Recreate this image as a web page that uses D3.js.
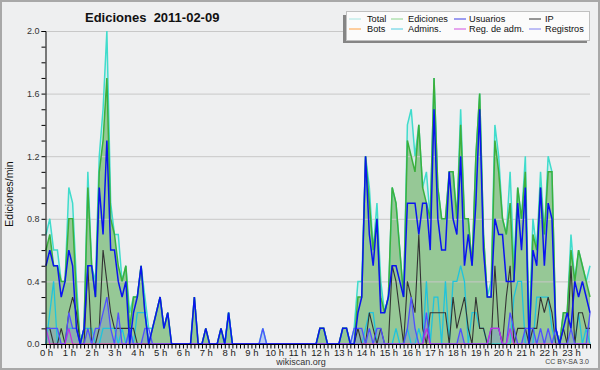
<!DOCTYPE html>
<html><head><meta charset="utf-8">
<script src="https://cdn.jsdelivr.net/npm/d3@7"></script>
<style>
body{margin:0;background:#eeeff0}
svg{display:block}
text{font-family:"Liberation Sans",Arial,sans-serif}
</style>
</head><body>
<svg id="c" width="600" height="370"></svg>
<script>
const title = "Ediciones  2011-02-09";
const hourLabels = ["0 h","1 h","2 h","3 h","4 h","5 h","6 h","7 h","8 h","9 h","10 h","11 h","12 h","13 h","14 h","15 h","16 h","17 h","18 h","19 h","20 h","21 h","22 h","23 h"];
const yTicks = [0.0,0.4,0.8,1.2,1.6,2.0];
const seriesNames = ["Total","Ediciones","Usuarios","IP","Bots","Admins.","Reg. de adm.","Registros"];

const total = [
.7,.8,.6,.6,.4,.4,1.0,.9,.4,0,.1,1.1,
.5,.4,1.2,1.5,2.0,.9,.7,.7,.4,.5,.2,.3,
.3,.5,.3,.1,.1,.2,.3,.1,.2,0,0,0,
0,0,0,.3,0,0,.1,0,0,0,.1,0,
.2,0,0,0,0,0,0,0,0,.1,0,0,
0,0,0,0,0,0,0,0,0,0,0,0,
.1,.1,0,0,0,0,.1,.1,0,.1,.4,.4,
1.2,1.0,.6,.9,.4,.2,.3,1.0,.9,.6,.3,1.4,
1.5,1.2,1.4,1.0,1.1,.8,1.7,1.0,.8,.8,1.1,1.1,
.8,1.5,.8,.8,.5,1.2,1.6,.7,.3,.4,1.4,1.2,
.8,.7,1.1,.5,1.0,.8,1.2,.1,.8,.6,1.1,.7,
1.2,1.1,.1,0,.2,.2,.7,.4,.6,.5,.4,.5];

const ediciones = [
.6,.7,.5,.5,.4,.4,.8,.8,.3,0,.1,1.0,
.5,.3,1.1,1.3,1.7,.8,.7,.5,.4,.5,.1,.3,
.3,.5,.2,0,.1,.2,.3,.1,.2,0,0,0,
0,0,0,.3,0,0,.1,0,0,0,.1,0,
.2,0,0,0,0,0,0,0,0,0,0,0,
0,0,0,0,0,0,0,0,0,0,0,0,
.1,.1,0,0,0,0,.1,.1,0,0,.3,.3,
1.2,.9,.6,.8,.3,.2,.3,1.0,.9,.6,.3,1.3,
1.2,1.1,1.4,1.0,.9,.8,1.7,1.0,.8,.8,1.1,1.1,
.8,1.4,.8,.8,.5,1.2,1.6,.7,.3,.3,1.3,1.1,
.8,.7,.9,.4,1.0,.8,1.1,0,.7,.6,1.0,.7,
1.1,1.1,.1,0,.2,.2,.6,.4,.6,.5,.4,.3];

const usuarios = [
.5,.6,.5,.5,.3,.4,.6,.5,.1,0,.1,.5,
.5,.3,1.0,.7,1.3,.6,.6,.4,.3,.4,0,.2,
.3,.5,.2,0,.1,.2,.3,.1,.2,0,0,0,
0,0,0,.3,0,0,.1,0,0,0,.1,0,
.2,0,0,0,0,0,0,0,0,0,0,0,
0,0,0,0,0,0,0,0,0,0,0,0,
.1,.1,0,0,0,0,.1,.1,0,0,.2,.3,
1.2,.7,.5,.8,.2,.2,.3,.5,.5,.4,.3,.9,
.9,.9,.7,.9,.9,.6,1.5,.8,.6,.6,1.1,.8,
.7,1.2,.5,.7,.5,.9,1.5,.6,.3,.3,.8,.7,
.7,.4,.4,.4,.9,.6,1.0,0,.6,.5,1.0,.5,
.9,.8,.1,0,.1,.2,.1,.4,.3,.4,.3,.2];

const ip = [
.1,.1,0,0,.1,0,.2,.3,.2,0,0,.5,
0,0,.1,.6,.4,.2,.1,.1,.1,.1,.1,.1,
0,0,0,0,0,0,0,0,0,0,0,0,
0,0,0,0,0,0,0,0,0,0,0,0,
0,0,0,0,0,0,0,0,0,0,0,0,
0,0,0,0,0,0,0,0,0,0,0,0,
0,0,0,0,0,0,0,0,0,0,.1,0,
0,.2,.1,0,.1,0,0,.5,.4,.2,0,.4,
.3,.2,.7,.1,0,.2,.2,.2,.2,.2,0,.3,
.1,.2,.3,.1,0,.3,.1,.1,0,0,.5,.1,
0,.3,.5,0,.1,.1,.1,0,.1,.1,.3,.2,
.3,.2,0,0,.1,0,.5,0,.2,.2,.1,.1];

const bots = [
0,0,0,0,0,0,0,0,0,0,0,0,
0,0,0,0,0,0,0,0,0,0,0,0,
0,0,0,0,0,0,0,0,0,0,0,0,
0,0,0,0,0,0,0,0,0,0,0,0,
0,0,0,0,0,0,0,0,0,0,0,0,
0,0,0,0,0,0,0,0,0,0,0,0,
0,0,0,0,0,0,0,0,0,0,0,0,
0,0,0,0,0,0,0,0,0,0,0,0,
0,0,0,0,0,0,0,0,0,0,0,0,
0,0,0,0,0,0,0,0,0,0,0,0,
0,0,0,0,0,0,0,0,0,0,0,0,
0,0,0,0,0,0,0,0,0,0,0,0];

const admins = [
0,.2,.4,0,0,0,.1,.1,.1,0,.1,.1,
.1,0,0,.1,.1,.1,.1,0,.1,0,.1,0,
.2,.2,.2,0,0,0,0,0,0,0,0,0,
0,0,0,0,0,0,0,0,0,0,0,0,
.2,0,0,0,0,0,0,0,0,0,0,0,
0,0,0,0,0,0,0,0,0,0,0,0,
0,0,0,0,0,0,0,0,0,0,0,0,
.1,.2,.2,0,0,0,0,0,.1,0,0,.1,
0,0,.1,0,.4,0,.3,.3,0,.4,0,.4,
.4,.5,.4,0,.2,.2,.1,.1,0,0,0,0,
0,0,0,.3,.4,.4,0,0,0,.3,.3,.3,
.3,.1,0,0,0,0,0,0,.2,0,.1,0];

const regAdm = [
.1,0,0,0,0,0,.1,0,0,0,0,0,
0,0,0,0,0,0,0,0,0,0,0,0,
0,0,0,0,0,0,0,0,0,0,0,0,
0,0,0,0,0,0,0,0,0,0,0,0,
0,0,0,0,0,0,0,0,0,0,0,0,
0,0,0,0,0,0,0,0,0,0,0,0,
0,0,0,0,0,0,0,0,0,0,0,0,
0,0,0,0,0,0,0,0,0,0,0,0,
0,0,0,0,.1,0,0,0,0,0,0,0,
0,0,0,0,0,0,0,0,0,.1,.1,.1,
0,0,.1,0,0,0,0,0,0,0,0,0,
0,0,0,0,0,0,0,0,0,0,0,0];

const registros = [
.1,.1,.1,.1,0,0,.2,.1,.1,0,0,.1,
0,.1,.1,.2,.3,.1,0,.2,0,0,.1,0,
0,0,.1,.1,0,0,0,0,0,0,0,0,
0,0,0,0,0,0,0,0,0,0,0,0,
0,0,0,0,0,0,0,0,0,.1,0,0,
0,0,0,0,0,0,0,0,0,0,0,0,
0,0,0,0,0,0,0,0,0,.1,.1,.1,
0,.1,0,.1,.1,0,0,0,0,0,0,.1,
.3,.1,0,0,.2,0,0,0,0,0,0,0,
0,.1,0,0,0,0,0,0,0,.1,.1,.1,
0,0,.2,.1,0,0,.1,.1,.1,0,.1,0,
.1,0,.1,0,0,0,.1,0,0,0,0,.2];

const W = 600, H = 370;
const svg = d3.select("#c");
const x = d3.scaleLinear().domain([0, total.length - 1]).range([46, 590]);
const y = d3.scaleLinear().domain([0, 2]).range([344, 31]);

// background + frame
svg.append("rect").attr("x",0).attr("y",0).attr("width",W).attr("height",H).attr("fill","#eeeff0");
svg.append("rect").attr("x",1).attr("y",1).attr("width",W-2).attr("height",H-2)
  .attr("fill","none").attr("stroke","#a8a8a8").attr("stroke-width",2);

// title
svg.append("text").attr("x",85).attr("y",22).attr("font-size",13).attr("font-weight","bold")
  .attr("fill","#111").style("white-space","pre").text(title);

const area = d3.area().x((d,i)=>x(i)).y0(y(0)).y1(d=>y(d));
const line = d3.line().x((d,i)=>x(i)).y(d=>y(d));

// fills
svg.append("path").attr("d",area(total)).attr("fill","#40e0d0").attr("fill-opacity",0.15);
svg.append("path").attr("d",area(ediciones)).attr("fill","#96c896");
svg.append("path").attr("d",area(registros)).attr("fill","#6060ff").attr("fill-opacity",0.22);

// grid
svg.append("g").selectAll("line").data(yTicks.filter(v=>v>0)).join("line")
  .attr("x1",46).attr("x2",590).attr("y1",d=>y(d)+0.5).attr("y2",d=>y(d)+0.5)
  .attr("stroke","#c8c8c8").attr("stroke-width",1);

// series lines
const seriesStyle = [
  {data:bots, color:"#ff9a30", w:1},
  {data:total, color:"#40dccc", w:1.5},
  {data:ediciones, color:"#3cb03c", w:1.5},
  {data:admins, color:"#20c4dc", w:1.3},
  {data:ip, color:"#333333", w:1.1},
  {data:registros, color:"#5050ff", w:1.3},
  {data:regAdm, color:"#c030e0", w:1.2},
  {data:usuarios, color:"#0a14f0", w:1.5}
];
seriesStyle.forEach(s=>{
  svg.append("path").attr("d",line(s.data)).attr("fill","none")
    .attr("stroke",s.color).attr("stroke-width",s.w).attr("stroke-linejoin","miter");
});

// y axis
const yMinor = d3.range(0, 21).map(k=>k/10);
const yAxis = d3.axisLeft(y).tickValues(yMinor).tickSize(4).tickPadding(2)
  .tickFormat(d=> yTicks.some(t=>Math.abs(t-d)<1e-9) ? d3.format(".1f")(d) : "");
const gy = svg.append("g").attr("transform","translate(45.5,0)").call(yAxis);
gy.select(".domain").attr("stroke","#000");
gy.selectAll(".tick line").attr("stroke","#000");
gy.selectAll("text").attr("font-size",9).attr("fill","#333").attr("font-family","Liberation Sans, Arial, sans-serif");

// x axis
const xAxis = d3.axisBottom(x).tickValues(d3.range(0,total.length)).tickSize(4).tickPadding(1)
  .tickFormat((d)=> d%6===0 ? hourLabels[d/6] : "");
const gx = svg.append("g").attr("transform","translate(0,344.5)").call(xAxis);
gx.select(".domain").attr("stroke","#000").attr("d","M45.5,0H591");
gx.selectAll(".tick line").attr("stroke","#000");
gx.selectAll("text").attr("font-size",9.5).attr("fill","#222").attr("font-family","Liberation Sans, Arial, sans-serif");

// y title
svg.append("text").attr("transform","translate(13,194) rotate(-90)").attr("text-anchor","middle")
  .attr("font-size",10.5).attr("fill","#111").text("Ediciones/min");

// footer
svg.append("text").attr("x",301).attr("y",365).attr("text-anchor","middle").attr("font-size",9)
  .attr("fill","#333").text("wikiscan.org");
svg.append("text").attr("x",589).attr("y",364).attr("text-anchor","end").attr("font-size",7)
  .attr("fill","#444").text("CC BY-SA 3.0");

// legend
const legendColors = ["#a8e6e2","#8cd48c","#3c3ce6","#303030","#ffa040","#50cce0","#d050e0","#8080f0"];
svg.append("rect").attr("x",343).attr("y",15).attr("width",244).attr("height",28).attr("fill","#858585");
svg.append("rect").attr("x",346.5).attr("y",11.5).attr("width",243).attr("height",29)
  .attr("fill","#fbfbfb").attr("stroke","#c0c0c0");
const colLine = [349, 391, 454, 529];
const colText = [367, 408, 469, 545];
const rowY = [21.5, 31.5];
const lg = svg.append("g").selectAll("g").data(seriesNames).join("g")
  .attr("transform",(d,i)=>`translate(0,${rowY[Math.floor(i/4)]})`);
lg.append("line").attr("x1",(d,i)=>colLine[i%4]).attr("x2",(d,i)=>colLine[i%4]+12)
  .attr("y1",-2.5).attr("y2",-2.5).attr("stroke",(d,i)=>legendColors[i]).attr("stroke-width",1);
lg.append("text").attr("x",(d,i)=>colText[i%4]).attr("y",0).attr("font-size",9.2)
  .attr("fill","#111").text(d=>d);
</script>
</body></html>
